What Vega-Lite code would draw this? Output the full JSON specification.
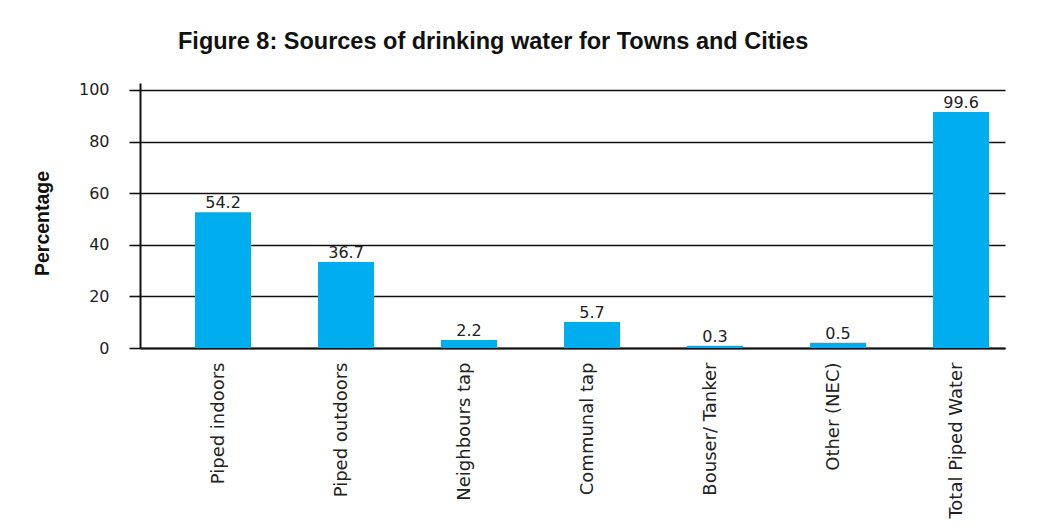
{
  "$schema": "https://vega.github.io/schema/vega-lite/v6.json",
  "autosize": {"type": "none"},
  "padding": {"left": 140, "top": 83, "right": 33, "bottom": 182},
  "width": 865,
  "height": 265,
  "background": "white",
  "title": {
    "text": "Figure 8: Sources of drinking water for Towns and Cities",
    "font": "Liberation Sans",
    "fontSize": 23.5,
    "fontWeight": "bold",
    "color": "#111111",
    "anchor": "start",
    "frame": "group",
    "dx": 38,
    "offset": 9,
    "baseline": "alphabetic"
  },
  "data": {
    "values": [
      {"source": "Piped indoors", "bar": 52.6, "label": "54.2"},
      {"source": "Piped outdoors", "bar": 33.3, "label": "36.7"},
      {"source": "Neighbours tap", "bar": 3.1, "label": "2.2"},
      {"source": "Communal tap", "bar": 10.1, "label": "5.7"},
      {"source": "Bouser/ Tanker", "bar": 0.9, "label": "0.3"},
      {"source": "Other (NEC)", "bar": 2.0, "label": "0.5"},
      {"source": "Total Piped Water", "bar": 91.5, "label": "99.6"}
    ]
  },
  "encoding": {
    "x": {
      "field": "source",
      "type": "nominal",
      "sort": null,
      "scale": {"paddingInner": 0.5447, "paddingOuter": 0.2886, "align": 0.775},
      "axis": {
        "title": null,
        "labelAngle": 270,
        "labelAlign": "right",
        "labelBaseline": "middle",
        "labelPadding": 14,
        "labelOffset": -4,
        "ticks": false,
        "tickSize": 0,
        "domain": true,
        "domainColor": "#111111",
        "domainWidth": 2,
        "labelFont": "DejaVu Sans",
        "labelFontSize": 18,
        "labelColor": "#222222",
        "labelLimit": 300
      }
    },
    "y": {
      "field": "bar",
      "type": "quantitative",
      "scale": {"domain": [0, 102.7], "nice": false},
      "axis": {
        "title": "Percentage",
        "titleFont": "Liberation Sans",
        "titleFontSize": 19.5,
        "titleFontWeight": "bold",
        "titleColor": "#111111",
        "titleAngle": 270,
        "titleAlign": "center",
        "titleBaseline": "middle",
        "titleX": -98,
        "titleY": 140,
        "values": [0, 20, 40, 60, 80, 100],
        "grid": true,
        "gridColor": "#111111",
        "gridWidth": 1.6,
        "domain": true,
        "domainColor": "#111111",
        "domainWidth": 2,
        "ticks": true,
        "tickSize": 11,
        "tickColor": "#111111",
        "tickWidth": 1.6,
        "labelPadding": 20,
        "labelFont": "DejaVu Sans",
        "labelFontSize": 16,
        "labelColor": "#222222"
      }
    }
  },
  "layer": [
    {
      "mark": {"type": "bar", "color": "#00AEEF"}
    },
    {
      "mark": {
        "type": "text",
        "baseline": "alphabetic",
        "align": "center",
        "dy": -4,
        "font": "DejaVu Sans",
        "fontSize": 16,
        "color": "#222222"
      },
      "encoding": {"text": {"field": "label", "type": "nominal"}}
    }
  ],
  "config": {"view": {"stroke": null}}
}
